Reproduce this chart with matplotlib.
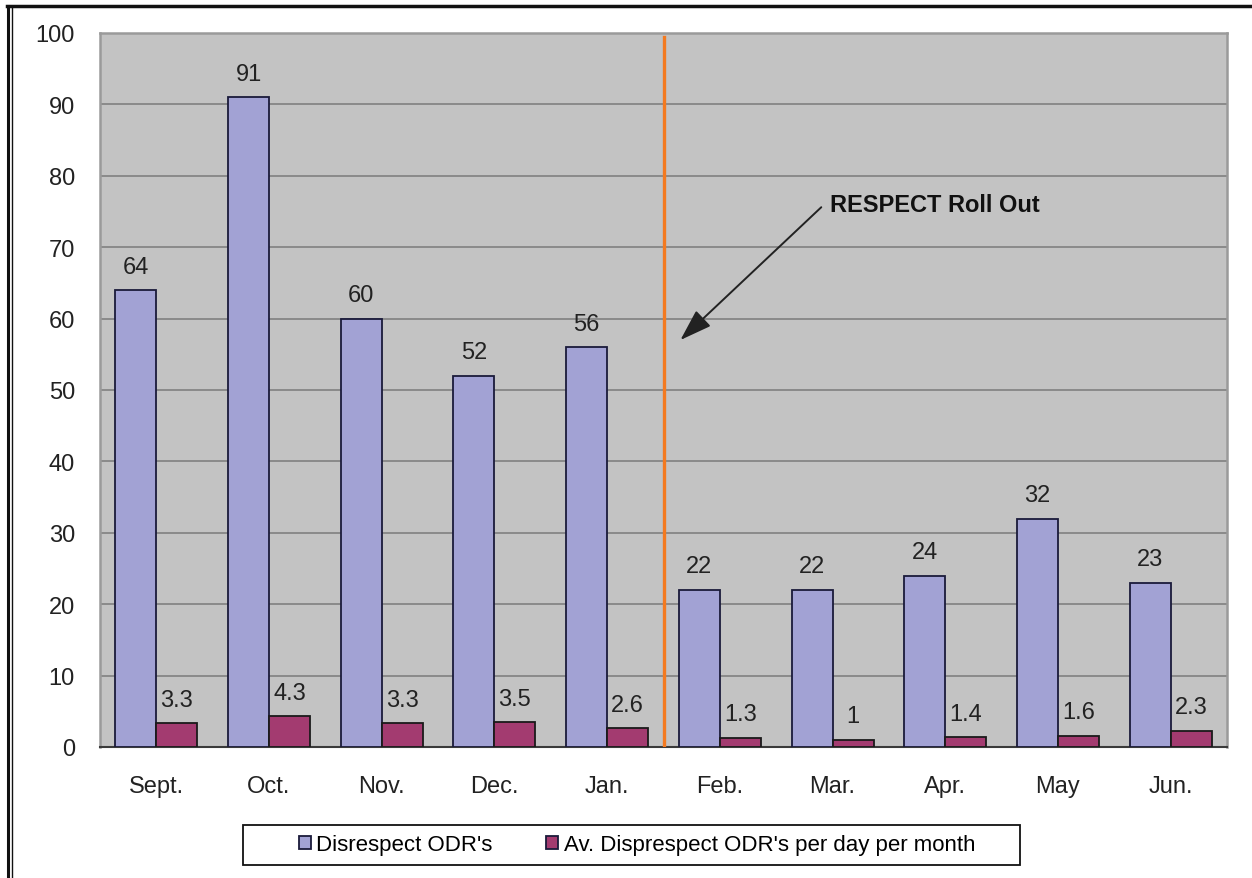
import matplotlib.pyplot as plt
import numpy as np
from matplotlib.lines import Line2D
from matplotlib.patches import Rectangle

plt.rcParams['font.family'] = ['Liberation Sans', 'DejaVu Sans']

months = ["Sept.", "Oct.", "Nov.", "Dec.", "Jan.", "Feb.", "Mar.", "Apr.", "May", "Jun."]
odr_counts = [64, 91, 60, 52, 56, 22, 22, 24, 32, 23]
odr_per_day = [3.3, 4.3, 3.3, 3.5, 2.6, 1.3, 1, 1.4, 1.6, 2.3]
labels = ["Disrespect ODR's", "Av. Disprespect ODR's per day per month"]
rollout_after = "Jan."

W, H = 1252, 879
fig = plt.figure(figsize=(W / 100, H / 100), dpi=100)
ax = fig.add_axes([100 / W, 1 - 748 / H, 1127 / W, 714 / H])
ax.set_facecolor('#C3C3C3')

x = np.arange(len(months))
width = 1 / 2.75
b1 = ax.bar(x - width / 2, odr_counts, width, color='#A2A2D4', edgecolor='#1a1a3a',
            linewidth=1.3, label=labels[0], zorder=3)
b2 = ax.bar(x + width / 2, odr_per_day, width, color='#A33B70', edgecolor='#1a1a1a',
            linewidth=1.3, label=labels[1], zorder=3)

for bars, vals in ((b1, odr_counts), (b2, odr_per_day)):
    for rect, v in zip(bars, vals):
        ax.annotate(f"{v:g}", (rect.get_x() + rect.get_width() / 2, rect.get_height()),
                    xytext=(0, 9), textcoords='offset points', ha='center', va='bottom',
                    fontsize=17, color='#222222')

ax.set_xlim(-0.5, len(months) - 0.5)
ax.set_ylim(0, 100)
ax.set_yticks(np.arange(0, 101, 10))
ax.set_xticks(x)
ax.set_xticklabels(months)
ax.yaxis.grid(True, color='#858585', linewidth=1.3, zorder=1)
ax.set_axisbelow(True)
ax.tick_params(axis='x', length=0, pad=20, labelsize=17, labelcolor='#222222')
ax.tick_params(axis='y', length=0, pad=18, labelsize=17, labelcolor='#222222')
for s in ('top', 'right', 'left'):
    ax.spines[s].set_color('#9a9a9a')
    ax.spines[s].set_linewidth(1.8)
ax.spines['bottom'].set_color('#3a3a3a')
ax.spines['bottom'].set_linewidth(1.5)

# roll-out marker between Jan. and Feb.
split = months.index(rollout_after) + 0.5
ax.plot([split, split], [0, 99.4], color='#F47A20', linewidth=2.4, zorder=4)
ax.annotate("", xy=(4.65, 57), xytext=(5.9, 75.6),
            arrowprops=dict(arrowstyle='-|>,head_length=0.9,head_width=0.3', color='#222222',
                            lw=1.4, mutation_scale=22, shrinkA=0, shrinkB=0), zorder=5)
ax.text(5.98, 76, "RESPECT Roll Out", fontsize=17, fontweight='bold',
        ha='left', va='center', color='#111111', zorder=5)

# legend: box drawn separately to match the wide padding
fig.add_artist(Rectangle((243 / W, 1 - 866 / H), 777 / W, 40 / H, transform=fig.transFigure,
                         facecolor='white', edgecolor='#111111', linewidth=1.3))
leg = fig.legend(loc='center', bbox_to_anchor=(637 / W, 1 - 846 / H), ncol=2,
                 fontsize=16, frameon=False, handlelength=0.55, handleheight=0.55,
                 handletextpad=0.25, columnspacing=2.4)
for h in leg.legend_handles:
    h.set_edgecolor('#1a1a3a')

# outer frame (top + double left)
fig.add_artist(Line2D([7 / W, 1], [1 - 7 / H, 1 - 7 / H], color='#111111', linewidth=2.5))
fig.add_artist(Line2D([8 / W, 8 / W], [0, 1 - 7 / H], color='#111111', linewidth=2.2))
fig.add_artist(Line2D([11.5 / W, 11.5 / W], [0, 1 - 7 / H], color='#111111', linewidth=1.0))

fig.savefig('out.png', dpi=100)
